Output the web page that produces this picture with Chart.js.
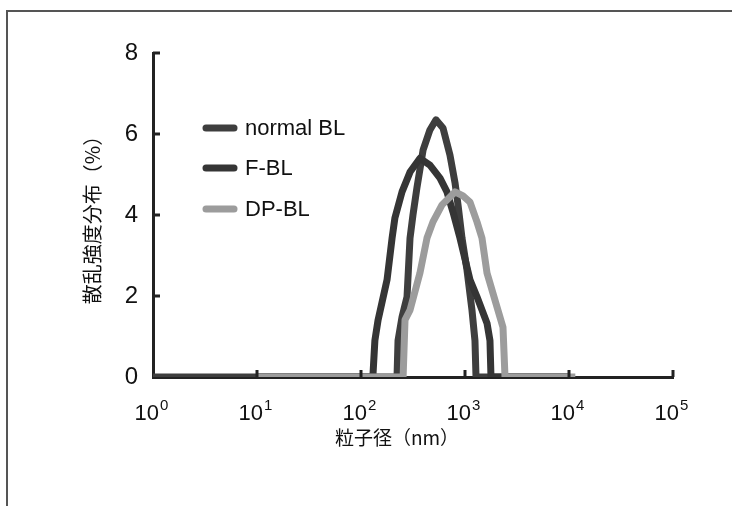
<!DOCTYPE html>
<html>
<head>
<meta charset="utf-8">
<script src="https://cdn.jsdelivr.net/npm/chart.js@4.4.1/dist/chart.umd.min.js"></script>
<style>
  body { margin: 0; background: #fff; }
  #wrap { position: relative; width: 732px; height: 506px; overflow: hidden; }
  #frame { position: absolute; left: 6px; top: 10px; width: 800px; height: 600px;
           border-top: 2px solid #555; border-left: 2px solid #555; }
  #chart { position: absolute; left: 0; top: 0; }
</style>
</head>
<body>
<div id="wrap">
  <div id="frame"></div>
  <canvas id="chart" width="732" height="506"></canvas>
</div>
<script>
// particle diameter (nm) and scattering intensity (%)
const normalX = [1, 10, 100, 222, 227, 248, 277, 296, 316, 345, 395, 460, 526, 614, 717, 801, 857, 936, 1045, 1167, 1247, 1276, 10000];
const normalY = [0, 0, 0, 0, 0.9, 1.48, 1.98, 3.43, 4.0, 4.67, 5.6, 6.1, 6.35, 6.15, 5.48, 4.8, 4.25, 3.43, 2.64, 1.65, 0.9, 0, 0];

const fblX = [10, 100, 130, 136, 146, 178, 199, 212, 248, 296, 369, 460, 575, 671, 767, 895, 1117, 1304, 1628, 1738, 1778, 10000];
const fblY = [0, 0, 0, 0.9, 1.41, 2.4, 3.43, 3.93, 4.57, 5.06, 5.4, 5.23, 4.91, 4.57, 4.07, 3.43, 2.4, 1.98, 1.33, 0.9, 0, 0];

const dpX = [10, 100, 254, 265, 296, 369, 431, 492, 601, 801, 957, 1117, 1304, 1456, 1628, 2031, 2318, 2425, 11500];
const dpY = [0, 0, 0, 1.41, 1.65, 2.57, 3.43, 3.83, 4.25, 4.57, 4.47, 4.32, 3.83, 3.43, 2.57, 1.73, 1.23, 0, 0];

const seriesNames = ['normal BL', 'F-BL', 'DP-BL'];
const xTickValues = [1, 10, 100, 1000, 10000, 100000];
const xTickExp = ['0', '1', '2', '3', '4', '5'];
const yTickValues = [0, 2, 4, 6, 8];

const xTitle = '粒子径（nm）';
const yTitle = '散乱強度分布（%）';

function pts(xs, ys) {
    return xs.map((x, i) => ({ x: x, y: ys[i] }));
}

// inward tick marks on both axes + "10^n" labels
const axisMarks = {
    id: 'axisMarks',
    afterDatasetsDraw(chart) {
        const ctx = chart.ctx;
        const xs = chart.scales.x, ys = chart.scales.y;
        const x0 = xs.left, y0 = ys.bottom;
        ctx.save();
        ctx.strokeStyle = '#222';
        ctx.lineWidth = 3;
        yTickValues.forEach(v => {
            if (v === 0) return;
            const y = ys.getPixelForValue(v);
            ctx.beginPath();
            ctx.moveTo(x0, y);
            ctx.lineTo(x0 + 7, y);
            ctx.stroke();
        });
        ctx.fillStyle = '#111';
        ctx.textBaseline = 'alphabetic';
        xTickValues.forEach((v, i) => {
            const x = xs.getPixelForValue(v);
            if (v !== 1) {
                ctx.beginPath();
                ctx.moveTo(x, y0);
                ctx.lineTo(x, y0 - 7);
                ctx.stroke();
            }
            ctx.font = '22px "Liberation Sans", Arial, sans-serif';
            const wBase = ctx.measureText('10').width;
            ctx.font = '15px "Liberation Sans", Arial, sans-serif';
            const wExp = ctx.measureText(xTickExp[i]).width;
            const left = x - (wBase + wExp) / 2 - 2;
            ctx.font = '22px "Liberation Sans", Arial, sans-serif';
            ctx.textAlign = 'left';
            ctx.fillText('10', left, 420);
            ctx.font = '15px "Liberation Sans", Arial, sans-serif';
            ctx.fillText(xTickExp[i], left + wBase + 1, 410);
        });
        ctx.restore();
    }
};

// legend inside the plot + x axis title
const extras = {
    id: 'extras',
    afterDraw(chart) {
        const ctx = chart.ctx;
        ctx.save();
        const rows = [128, 168, 209];
        chart.data.datasets.forEach((ds, i) => {
            ctx.strokeStyle = ds.borderColor;
            ctx.lineWidth = 7;
            ctx.lineCap = 'round';
            ctx.beginPath();
            ctx.moveTo(206, rows[i]);
            ctx.lineTo(234, rows[i]);
            ctx.stroke();
            ctx.fillStyle = '#111';
            ctx.font = '22px "Liberation Sans", Arial, sans-serif';
            ctx.textBaseline = 'middle';
            ctx.textAlign = 'left';
            ctx.fillText(ds.label, 245, rows[i] + 1);
        });
        ctx.font = '19px "Noto Sans CJK JP", sans-serif';
        ctx.textAlign = 'center';
        ctx.textBaseline = 'middle';
        ctx.fillStyle = '#111';
        ctx.fillText(xTitle, 397, 438);
        ctx.restore();
    }
};

const ctx = document.getElementById('chart').getContext('2d');

new Chart(ctx, {
    type: 'line',
    data: {
        datasets: [
            { label: seriesNames[0], data: pts(normalX, normalY), borderColor: '#3e3e3e', order: 2 },
            { label: seriesNames[1], data: pts(fblX, fblY), borderColor: '#353535', order: 1 },
            { label: seriesNames[2], data: pts(dpX, dpY), borderColor: '#9c9c9c', order: 0 }
        ]
    },
    options: {
        responsive: false,
        animation: false,
        layout: { padding: { left: 0, top: 53, right: 59, bottom: 0 } },
        elements: {
            line: { borderWidth: 7, tension: 0, borderJoinStyle: 'round', fill: false },
            point: { radius: 0 }
        },
        scales: {
            x: {
                type: 'logarithmic',
                min: 1,
                max: 100000,
                afterBuildTicks: (s) => { s.ticks = xTickValues.map(v => ({ value: v })); },
                afterFit: (s) => { s.height = 129; },
                grid: { display: false, drawTicks: false },
                border: { display: true, color: '#222', width: 3 },
                ticks: { display: false }
            },
            y: {
                min: 0,
                max: 8,
                afterBuildTicks: (s) => { s.ticks = yTickValues.map(v => ({ value: v })); },
                afterFit: (s) => { s.width = 153; },
                grid: { display: false, drawTicks: false },
                border: { display: true, color: '#222', width: 3 },
                ticks: {
                    padding: 15,
                    color: '#111',
                    font: { family: '"Liberation Sans", Arial, sans-serif', size: 24 }
                },
                title: {
                    display: true,
                    text: yTitle,
                    color: '#111',
                    padding: { top: 80, bottom: 0 },
                    font: { family: '"Noto Sans CJK JP", sans-serif', size: 20 }
                }
            }
        },
        plugins: {
            legend: { display: false },
            tooltip: { enabled: false }
        }
    },
    plugins: [axisMarks, extras]
});
</script>
</body>
</html>
